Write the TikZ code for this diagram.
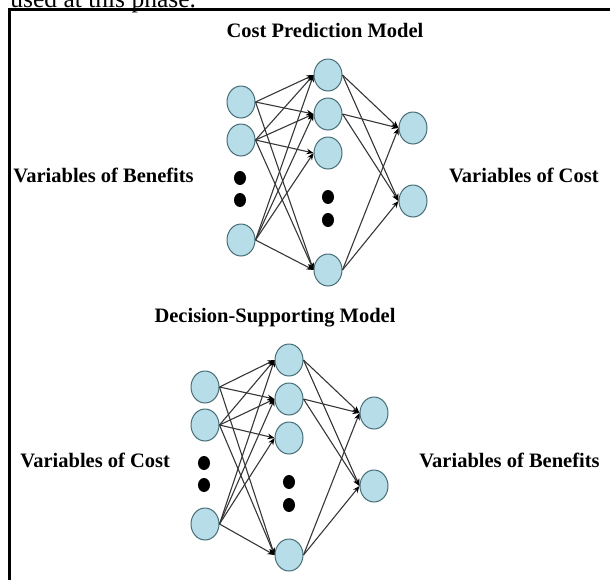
\documentclass[tikz,border=0pt]{standalone}
\usepackage{fontspec}
\setmainfont{Liberation Serif}
\usetikzlibrary{arrows.meta,positioning,shapes.geometric}
\definecolor{unitfill}{RGB}{183,221,232}
\definecolor{unitline}{RGB}{70,108,118}
\definecolor{linkgray}{RGB}{55,55,55}

\begin{document}
\begin{tikzpicture}[x=0.5pt,y=-0.5pt,
    unit/.style={draw=unitline, line width=0.5pt, fill=unitfill, ellipse,
      minimum width=14pt, minimum height=16pt, inner sep=0pt},
    blob/.style={fill=black, ellipse, minimum width=6pt, minimum height=7pt, inner sep=0pt},
    link/.style={draw=linkgray, line width=0.55pt, -{Stealth[length=3.5pt,width=2.8pt,black]}},
    lbl/.style={font=\fontsize{10.25}{12}\selectfont\bfseries, inner sep=0pt}]
  \useasboundingbox (0,0) rectangle (610,579);
  \clip (0,0) rectangle (610,579);

  % page text and frame
  \node[anchor=base west, inner sep=0pt, font=\fontsize{12.75}{15}\selectfont] (lead) at (10,7) {used at this phase.};
  \draw[line width=1.5pt] (9,620) -- (9,9) -- (630,9);

  % cost prediction model
  \node[lbl, anchor=base] (ctitle) at (325,37) {Cost Prediction Model};
  \node[lbl, anchor=base west] (cin) at (13,182) {Variables of Benefits};
  \node[lbl, anchor=base east] (cout) at (599,182) {Variables of Cost};

  \node[unit] (cI1) at (241,102) {};
  \node[unit] (cI2) at (241,140) {};
  \node[blob] (cd1) at (240,178) {};
  \node[blob] (cd2) at (240,200) {};
  \node[unit] (cI3) at (241,240) {};

  \node[unit] (cH1) at (328,75) {};
  \node[unit] (cH2) at (328,114) {};
  \node[unit] (cH3) at (328,153) {};
  \node[blob] (cd3) at (328,197) {};
  \node[blob] (cd4) at (328,220) {};
  \node[unit] (cH4) at (328,270) {};

  \node[unit] (cO1) at (413,128) {};
  \node[unit] (cO2) at (413,201) {};

  \path (cI1.east) edge[link] (cH1.west) edge[link] (cH2.west) edge[link] (cH4.west);
  \path (cI2.east) edge[link] (cH1.west) edge[link] (cH2.west) edge[link] (cH3.west) edge[link] (cH4.west);
  \path (cI3.east) edge[link] (cH1.west) edge[link] (cH2.west) edge[link] (cH3.west) edge[link] (cH4.west);
  \path (cH1.east) edge[link] (cO1.west) edge[link] (cO2.west);
  \path (cH2.east) edge[link] (cO1.west) edge[link] (cO2.west);
  \path (cH4.east) edge[link] (cO1.west) edge[link] (cO2.west);

  % decision-supporting model
  \node[lbl, anchor=base] (dtitle) at (275,322) {Decision-Supporting Model};
  \node[lbl, anchor=base west] (din) at (20,467) {Variables of Cost};
  \node[lbl, anchor=base east] (dout) at (600,467) {Variables of Benefits};

  \node[unit] (dI1) at (205,387) {};
  \node[unit] (dI2) at (205,425) {};
  \node[blob] (dd1) at (204,463) {};
  \node[blob] (dd2) at (204,485) {};
  \node[unit] (dI3) at (205,524) {};

  \node[unit] (dH1) at (289,360) {};
  \node[unit] (dH2) at (289,399) {};
  \node[unit] (dH3) at (289,438) {};
  \node[blob] (dd3) at (289,482) {};
  \node[blob] (dd4) at (289,505) {};
  \node[unit] (dH4) at (289,555) {};

  \node[unit] (dO1) at (374,413) {};
  \node[unit] (dO2) at (374,486) {};

  \path (dI1.east) edge[link] (dH1.west) edge[link] (dH2.west) edge[link] (dH4.west);
  \path (dI2.east) edge[link] (dH1.west) edge[link] (dH2.west) edge[link] (dH3.west) edge[link] (dH4.west);
  \path (dI3.east) edge[link] (dH1.west) edge[link] (dH2.west) edge[link] (dH3.west) edge[link] (dH4.west);
  \path (dH1.east) edge[link] (dO1.west) edge[link] (dO2.west);
  \path (dH2.east) edge[link] (dO1.west) edge[link] (dO2.west);
  \path (dH4.east) edge[link] (dO1.west) edge[link] (dO2.west);
\end{tikzpicture}
\end{document}
